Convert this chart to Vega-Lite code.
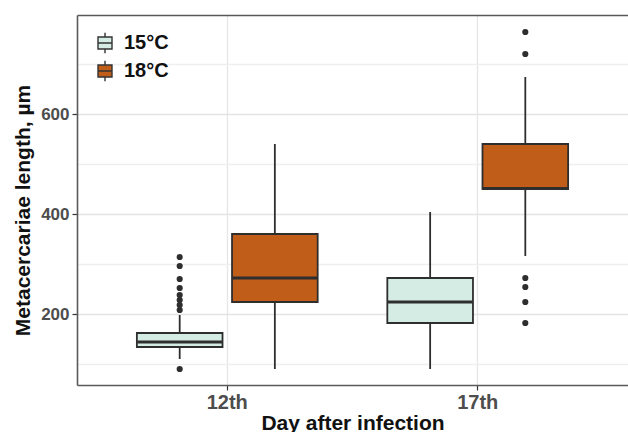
{
  "$schema": "https://vega.github.io/schema/vega-lite/v6.json",
  "width": 551,
  "height": 370,
  "autosize": "none",
  "padding": {"left": 77, "top": 15, "right": 0, "bottom": 47},
  "background": "white",
  "config": {
    "font": "Liberation Sans",
    "view": {"stroke": null}
  },
  "resolve": {"axis": {"x": "independent"}},
  "datasets": {
    "boxes": [
      {"day": "12th", "temp": "15°C", "lower": 110, "q1": 134, "median": 144, "q3": 162, "upper": 198},
      {"day": "12th", "temp": "18°C", "lower": 90, "q1": 224, "median": 272, "q3": 360, "upper": 540},
      {"day": "17th", "temp": "15°C", "lower": 90, "q1": 182, "median": 224, "q3": 272, "upper": 404},
      {"day": "17th", "temp": "18°C", "lower": 316, "q1": 450, "median": 451, "q3": 540, "upper": 674}
    ],
    "outliers": [
      {"day": "12th", "temp": "15°C", "value": 314},
      {"day": "12th", "temp": "15°C", "value": 296},
      {"day": "12th", "temp": "15°C", "value": 270},
      {"day": "12th", "temp": "15°C", "value": 252},
      {"day": "12th", "temp": "15°C", "value": 238},
      {"day": "12th", "temp": "15°C", "value": 228},
      {"day": "12th", "temp": "15°C", "value": 218},
      {"day": "12th", "temp": "15°C", "value": 208},
      {"day": "12th", "temp": "15°C", "value": 90},
      {"day": "17th", "temp": "18°C", "value": 764},
      {"day": "17th", "temp": "18°C", "value": 720},
      {"day": "17th", "temp": "18°C", "value": 272},
      {"day": "17th", "temp": "18°C", "value": 254},
      {"day": "17th", "temp": "18°C", "value": 224},
      {"day": "17th", "temp": "18°C", "value": 182}
    ]
  },
  "layer": [
    {
      "data": {"name": "boxes"},
      "mark": {"type": "rule", "color": "#2e2e2e", "strokeWidth": 1.8},
      "encoding": {
        "x": {
          "field": "day",
          "type": "nominal",
          "scale": {"domain": ["12th", "17th"], "paddingInner": 0, "paddingOuter": 0.1},
          "axis": {
            "title": "Day after infection",
            "labelAngle": 0,
            "bandPosition": 0.5,
            "domain": true,
            "domainColor": "#5a5a5a",
            "domainWidth": 1.6,
            "tickColor": "#333333",
            "tickSize": 5,
            "tickWidth": 1.2,
            "labelFontSize": 20,
            "labelFontWeight": "bold",
            "labelColor": "#4d4d4d",
            "labelPadding": 2,
            "titleFontSize": 21,
            "titleFontWeight": "bold",
            "titleColor": "#111111",
            "titlePadding": 0,
            "grid": true,
            "gridColor": "#e6e6e6",
            "gridWidth": 1.3
          }
        },
        "xOffset": {
          "field": "temp",
          "type": "nominal",
          "scale": {"domain": ["15°C", "18°C"], "paddingInner": 0.1, "paddingOuter": 0.366}
        },
        "y": {
          "field": "lower",
          "type": "quantitative",
          "scale": {"domain": [58, 798], "nice": false, "zero": false},
          "axis": {
            "title": "Metacercariae length,  µm",
            "values": [100, 200, 300, 400, 500, 600, 700],
            "labelExpr": "datum.value % 200 == 0 ? datum.label : ''",
            "domain": true,
            "domainColor": "#5a5a5a",
            "domainWidth": 1.6,
            "tickSize": 5,
            "tickWidth": 1.2,
            "tickColor": {"condition": {"test": "datum.value % 200 == 0", "value": "#333333"}, "value": "transparent"},
            "gridColor": {"condition": {"test": "datum.value % 200 == 0", "value": "#e4e4e4"}, "value": "#efefef"},
            "gridWidth": 1.3,
            "labelFontSize": 17,
            "labelFontWeight": "bold",
            "labelColor": "#4d4d4d",
            "labelPadding": 3,
            "titleFontSize": 21,
            "titleFontWeight": "bold",
            "titleColor": "#111111",
            "titlePadding": 7,
            "titleY": 195
          }
        },
        "y2": {"field": "q1"}
      }
    },
    {
      "data": {"name": "boxes"},
      "mark": {"type": "rule", "color": "#2e2e2e", "strokeWidth": 1.8},
      "encoding": {
        "x": {"field": "day", "type": "nominal", "axis": null},
        "xOffset": {"field": "temp", "type": "nominal"},
        "y": {"field": "q3", "type": "quantitative"},
        "y2": {"field": "upper"}
      }
    },
    {
      "data": {"name": "boxes"},
      "mark": {"type": "bar", "stroke": "#2e2e2e", "strokeWidth": 1.8, "opacity": 1},
      "encoding": {
        "x": {"field": "day", "type": "nominal", "axis": null},
        "xOffset": {"field": "temp", "type": "nominal"},
        "y": {"field": "q1", "type": "quantitative"},
        "y2": {"field": "q3"},
        "fill": {
          "field": "temp",
          "type": "nominal",
          "scale": {"domain": ["15°C", "18°C"], "range": ["#d5ece5", "#c05d19"]},
          "legend": {
            "title": null,
            "orient": "none",
            "legendX": 18,
            "legendY": 18,
            "symbolType": "M-1,-0.85H1V0.85H-1Z M-1,0H1 M0,-0.85V-1.45 M0,0.85V1.45",
            "symbolSize": 196,
            "symbolStrokeColor": "#333333",
            "symbolStrokeWidth": 1.4,
            "symbolOpacity": 1,
            "labelFontSize": 20,
            "labelFontWeight": "bold",
            "labelColor": "#111111",
            "labelOffset": 9,
            "rowPadding": 2
          }
        }
      }
    },
    {
      "data": {"name": "boxes"},
      "mark": {"type": "tick", "color": "#2e2e2e", "thickness": 3, "size": 85, "opacity": 1},
      "encoding": {
        "x": {"field": "day", "type": "nominal", "axis": null},
        "xOffset": {"field": "temp", "type": "nominal"},
        "y": {"field": "median", "type": "quantitative"}
      }
    },
    {
      "data": {"name": "outliers"},
      "mark": {"type": "point", "filled": true, "color": "#2e2e2e", "size": 38, "opacity": 1},
      "encoding": {
        "x": {
          "field": "day",
          "type": "nominal",
          "axis": {
            "orient": "top",
            "title": null,
            "labels": false,
            "ticks": false,
            "grid": false,
            "domain": true,
            "domainColor": "#5a5a5a",
            "domainWidth": 1.6
          }
        },
        "xOffset": {"field": "temp", "type": "nominal"},
        "y": {"field": "value", "type": "quantitative"}
      }
    }
  ]
}
